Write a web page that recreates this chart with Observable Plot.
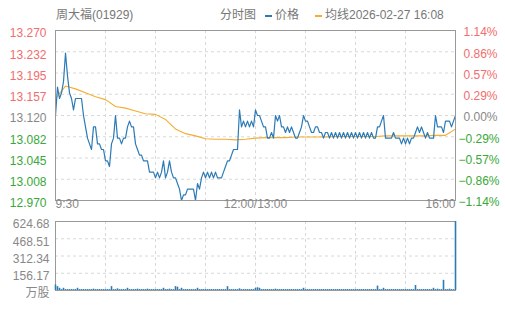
<!DOCTYPE html>
<html><head><meta charset="utf-8">
<script src="https://cdn.jsdelivr.net/npm/d3@7"></script>
<script src="https://cdn.jsdelivr.net/npm/@observablehq/plot@0.6"></script>
<style>
body{margin:0;background:#fff;}
#wrap{position:relative;width:505px;height:310px;font-family:"Liberation Sans","Noto Sans CJK SC",sans-serif;font-size:12px;color:#777;}
.h{position:absolute;top:8px;line-height:15px;white-space:nowrap;}
.mk{position:absolute;top:15px;width:7px;height:2px;}
#main{position:absolute;left:0;top:20px;}
#vol{position:absolute;left:0;top:211px;}
</style></head>
<body>
<div id="wrap">
  <span class="h" style="left:56px">周大福(01929)</span>
  <span class="h" style="left:220px">分时图</span>
  <span class="mk" style="left:265px;background:#2c7bb6"></span>
  <span class="h" style="left:275px">价格</span>
  <span class="mk" style="left:315px;background:#f5ad2f"></span>
  <span class="h" style="left:325px">均线2026-02-27 16:08</span>
  <div id="main"></div>
  <div id="vol"></div>
</div>
<script>
const prevClose = 13.12;
const priceTicks = [13.27, 13.2325, 13.195, 13.1575, 13.12, 13.0825, 13.045, 13.0075, 12.97];
const priceTickLabels = ["13.270","13.232","13.195","13.157","13.120","13.082","13.045","13.008","12.970"];
const pctTickLabels = ["1.14%","0.86%","0.57%","0.29%","0.00%","−0.29%","−0.57%","−0.86%","−1.14%"];
const volTicks = [624.68, 468.51, 312.34, 156.17, 0];
const volTickLabels = ["624.68","468.51","312.34","156.17","万股"];
const timeLabels = ["9:30","12:00/13:00","16:00"];
const timeSlots = [0, 100, 200];
const gridSlots = [25,50,75,100,125,150,175];

// price sampled per slot, 9:30 -> 12:00 (slots 0-100), 13:00 -> 16:00 (slots 100-200)
const price = [
13.12,13.17,13.15,13.16,13.18,13.23,13.19,13.16,13.15,13.13,
13.15,13.15,13.15,13.15,13.12,13.10,13.08,13.07,13.06,13.10,
13.10,13.07,13.07,13.06,13.06,13.04,13.04,13.03,13.07,13.08,
13.12,13.08,13.08,13.07,13.08,13.08,13.10,13.11,13.10,13.10,
13.07,13.06,13.05,13.05,13.04,13.04,13.04,13.02,13.02,13.02,
13.01,13.02,13.01,13.02,13.04,13.01,13.02,13.04,13.02,13.01,
13.01,13.00,12.99,12.97,12.98,12.98,12.99,12.99,12.99,12.99,
12.97,13.00,12.99,13.01,13.02,13.01,13.02,13.01,13.02,13.01,
13.02,13.01,13.01,13.01,13.02,13.03,13.04,13.04,13.05,13.06,
13.06,13.06,13.13,13.10,13.11,13.10,13.11,13.10,13.11,13.10,
13.13,
13.12,13.12,13.11,13.10,13.10,13.08,13.08,13.09,13.08,13.12,
13.11,13.12,13.10,13.10,13.09,13.10,13.09,13.10,13.09,13.08,
13.08,13.09,13.10,13.12,13.11,13.11,13.10,13.09,13.09,13.10,
13.10,13.09,13.09,13.08,13.09,13.09,13.08,13.09,13.08,13.09,
13.08,13.09,13.08,13.09,13.08,13.09,13.08,13.09,13.08,13.09,
13.08,13.09,13.08,13.09,13.08,13.09,13.08,13.09,13.08,13.08,
13.10,13.10,13.11,13.12,13.08,13.08,13.08,13.08,13.09,13.08,
13.08,13.08,13.07,13.08,13.07,13.08,13.07,13.08,13.08,13.09,
13.10,13.09,13.10,13.09,13.08,13.09,13.08,13.08,13.08,13.12,
13.10,13.10,13.10,13.09,13.11,13.11,13.11,13.10,13.11,13.12
];
// average price, one value every 5 slots
const avgPrice = [
13.150,13.172,13.167,13.160,13.153,13.148,13.136,13.133,13.128,13.123,
13.122,13.113,13.096,13.088,13.084,13.079,13.078,13.078,13.077,13.078,
13.080,13.081,13.081,13.081,13.082,13.082,13.082,13.082,13.083,13.083,
13.083,13.083,13.083,13.084,13.084,13.084,13.084,13.084,13.085,13.085,
13.096
];
// volume (万股) per slot
const volume = [
50,35,20,8,20,8,8,8,8,8,8,20,8,8,8,8,8,8,8,12,
8,8,8,8,8,8,8,8,35,8,8,15,8,8,8,8,20,8,8,8,
8,12,8,8,8,8,12,8,8,8,8,8,8,8,20,8,8,12,8,8,
35,30,8,20,8,8,8,8,8,8,8,20,8,8,8,8,8,8,8,8,
8,8,8,8,8,8,35,8,8,8,8,8,15,8,8,8,8,8,8,8,
20,25,20,8,8,8,8,8,8,8,12,8,8,8,8,8,8,8,8,8,
8,8,8,8,20,8,8,8,8,8,8,8,8,8,8,8,8,8,8,8,
8,8,8,8,8,8,8,8,8,8,8,8,8,8,8,8,8,8,8,8,
8,40,8,8,20,8,8,8,8,8,8,8,8,8,8,8,8,8,8,8,
45,8,8,8,8,8,8,8,8,20,8,12,8,8,92,8,8,12,8,8,
624.68
];

const BLUE = "#2c7bb6", YEL = "#f5ad2f", RED = "#f26d6d", GREEN = "#38a838", GRAY = "#888";
const pts = price.map((p, i) => ({slot: i, p}));
const avg = avgPrice.map((p, j) => ({slot: j * 5, p}));
const vols = volume.map((v, i) => ({slot: i, v}));
const ticks = priceTicks.map((t, i) => ({t, label: priceTickLabels[i], pct: pctTickLabels[i],
  c: Math.abs(t - prevClose) < 1e-9 ? GRAY : (t > prevClose ? RED : GREEN)}));
const fontStyle = {fontFamily: '"Liberation Sans","Noto Sans CJK SC",sans-serif', fontSize: "12px", background: "transparent", overflow: "visible"};
const dash = "3,3";

const main = Plot.plot({
  width: 505, height: 195, marginTop: 10, marginBottom: 15, marginLeft: 55, marginRight: 50,
  style: fontStyle,
  x: {domain: [0, 200], axis: null},
  y: {domain: [12.97, 13.27], axis: null},
  color: {type: "identity"},
  marks: [
    Plot.ruleX(gridSlots, {stroke: "#d8d8d8", strokeDasharray: dash}),
    Plot.ruleY(priceTicks.slice(1, -1), {stroke: "#d8d8d8", strokeDasharray: dash}),
    Plot.line(avg, {x: "slot", y: "p", stroke: YEL, strokeWidth: 1.1}),
    Plot.line(pts, {x: "slot", y: "p", stroke: BLUE, strokeWidth: 1.2}),
    Plot.frame({stroke: "#999"}),
    Plot.text(ticks, {y: "t", text: "label", fill: "c", frameAnchor: "left", textAnchor: "end", dx: -9, dy: 3}),
    Plot.text(ticks.filter(d => d.t >= prevClose), {y: "t", text: "pct", fill: "c", frameAnchor: "right", textAnchor: "start", dx: 8, dy: 2}),
    Plot.text(ticks.filter(d => d.t < prevClose), {y: "t", text: "pct", fill: "c", frameAnchor: "right", textAnchor: "start", dx: 3, dy: 2}),
    Plot.text([timeLabels[0]], {x: timeSlots[0], text: d => d, frameAnchor: "bottom", textAnchor: "start", dy: 7, fill: GRAY}),
    Plot.text([timeLabels[1]], {x: timeSlots[1], text: d => d, frameAnchor: "bottom", textAnchor: "middle", dy: 7, fill: GRAY}),
    Plot.text([timeLabels[2]], {x: timeSlots[2], text: d => d, frameAnchor: "bottom", textAnchor: "end", dy: 7, fill: GRAY})
  ]
});
document.getElementById("main").appendChild(main);

const vol = Plot.plot({
  width: 505, height: 94, marginTop: 10, marginBottom: 15, marginLeft: 55, marginRight: 50,
  style: fontStyle,
  x: {domain: [0, 200], axis: null},
  y: {domain: [0, 624.68], axis: null},
  color: {type: "identity"},
  marks: [
    Plot.ruleX(gridSlots, {stroke: "#d8d8d8", strokeDasharray: dash}),
    Plot.ruleY(volTicks.slice(1, -1), {stroke: "#d8d8d8", strokeDasharray: dash}),
    Plot.frame({stroke: "#999"}),
    Plot.ruleX(vols, {x: "slot", y1: 0, y2: "v", stroke: BLUE, strokeWidth: 1.6}),
    Plot.text(volTicks.map((t, i) => ({t, label: volTickLabels[i]})), {y: "t", text: "label", fill: GRAY, frameAnchor: "left", textAnchor: "end", dx: -6, dy: 3})
  ]
});
document.getElementById("vol").appendChild(vol);
</script>
</body></html>
